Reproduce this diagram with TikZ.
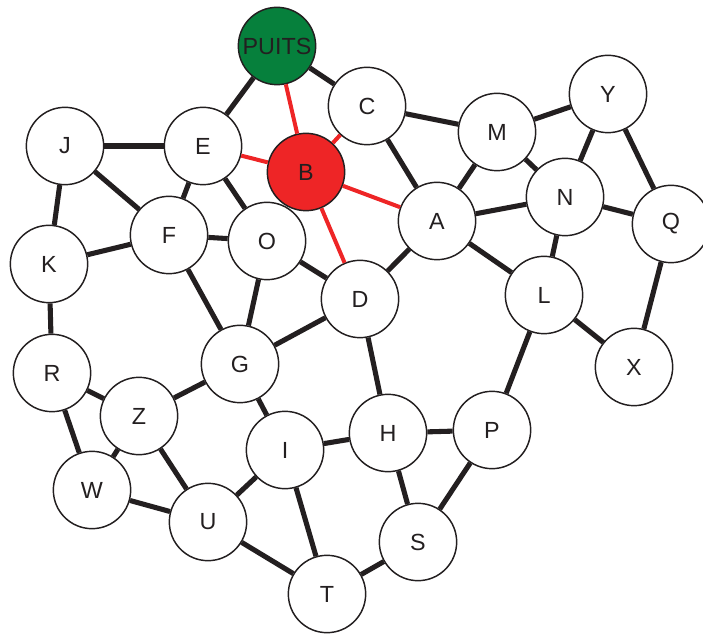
\documentclass[tikz,border=0pt]{standalone}
\usepackage{fontspec}
\setmainfont{Liberation Sans}
\definecolor{grfBlack}{HTML}{231F20}
\definecolor{grfRed}{HTML}{EE2526}
\definecolor{grfGreen}{HTML}{06803C}
\tikzset{
  grf vertex/.style={circle, draw=grfBlack, fill=white, line width=1.1pt, minimum size=58pt, inner sep=0pt, font=\fontsize{17.5}{18}\selectfont, text=grfBlack},
  grf source/.style={grf vertex, fill=grfRed},
  grf sink/.style={grf vertex, fill=grfGreen},
  grf edge/.style={draw=grfBlack, line width=3.8pt},
  grf path/.style={draw=grfRed, line width=3pt},
}
\begin{document}
\begin{tikzpicture}[x=0.75pt, y=-0.75pt]
  \useasboundingbox (0,0) rectangle (703,634);

  % Special vertices
  \node[grf sink] (PUITS) at (277,46) {PUITS};
  \node[grf source] (B) at (306,172) {B};

  % Ordinary vertices
  \foreach \name/\x/\y in {C/367/106, E/203/146, A/437/221, O/267/241, D/360/299,
      F/169/235, J/65/146, K/49/264, R/52/373, G/240/364, Z/139/416, W/92/490,
      U/208/522, I/285/450, H/388/433, P/492/430, S/418/542, T/327/594,
      M/497/132, Y/608/94, N/565/197, Q/671/224, L/544/295, X/634/367}
    \node[grf vertex] (\name) at (\x,\y) {\name};

  % Black edges
  \foreach \a/\b in {PUITS/C, PUITS/E, C/A, C/M, J/E, J/F, J/K, E/F, E/O,
      M/A, M/Y, M/N, Y/N, Y/Q, N/A, N/Q, N/L, A/L, A/D, F/O, F/K, F/G,
      O/D, O/G, D/G, D/H, L/P, L/X, Q/X, R/K, R/Z, R/W, G/Z, G/I, Z/W,
      Z/U, W/U, U/I, U/T, I/H, I/T, H/P, H/S, P/S, S/T}
    \draw[grf edge] (\a) -- (\b);

  % Red edges around B
  \foreach \b in {PUITS, C, E, A, D}
    \draw[grf path] (B) -- (\b);
\end{tikzpicture}
\end{document}
